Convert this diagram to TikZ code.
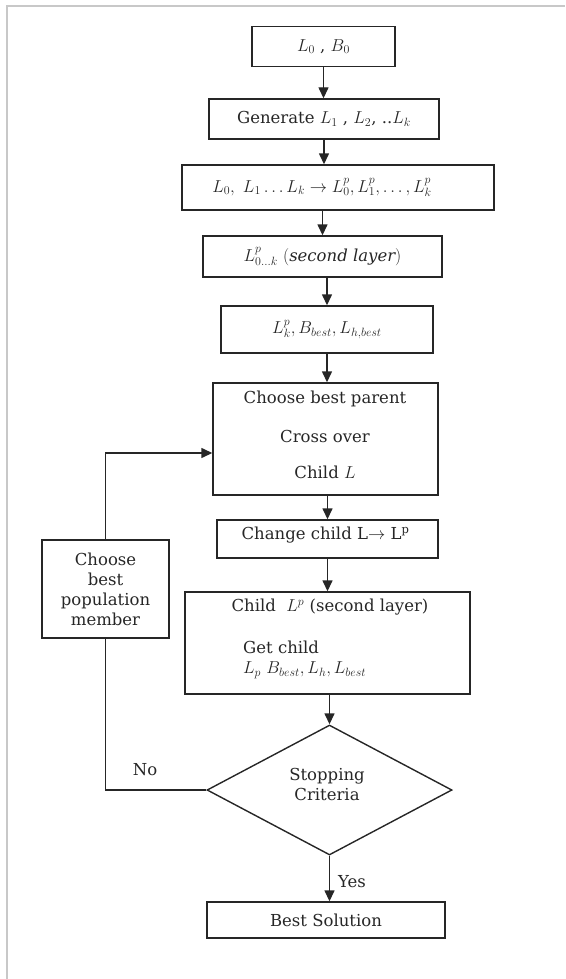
\documentclass[tikz,border=0pt]{standalone}
\usepackage{fontspec}
\setmainfont{DejaVu Serif}
\usetikzlibrary{arrows.meta,shapes.geometric}
\definecolor{ink}{HTML}{262626}
\definecolor{framegray}{HTML}{C8C8C8}
\newcommand\myfs{\fontsize{16.5pt}{20pt}\selectfont}
\begin{document}
\begin{tikzpicture}[x=1pt,y=-1pt,
  box/.style={draw=ink,line width=1.4pt,inner sep=0pt,text=ink,font=\myfs},
  txt/.style={inner sep=0pt,text=ink,font=\myfs},
  conn/.style={draw=ink,line width=1.4pt},
  arr/.style={conn,-{Triangle[length=11pt,width=10pt]}}]
\useasboundingbox (0,0) rectangle (565,979);
\draw[framegray,line width=1.5pt] (7,979) -- (7,6) -- (565,6);

\node[box,minimum width=143pt,minimum height=40pt] (b1) at (323.5,46.5) {$L_0$ , $B_0$};
\node[box,minimum width=230pt,minimum height=40pt] (b2) at (324,119) {Generate $L_1$ , $L_2$, ..$L_k$};
\node[box,minimum width=312pt,minimum height=45pt] (b3) at (338,187.5) {};
\node[txt] (t3) at (322,187.5) {$L_0,\ L_1 \ldots L_k \rightarrow L^{p}_{0}, L^{p}_{1}, \ldots, L^{p}_{k}$};
\node[box,minimum width=239pt,minimum height=41pt] (b4) at (322.5,256.5) {$L^{p}_{0\ldots k}$ $(\mathit{second\ layer})$};
\node[box,minimum width=212pt,minimum height=47pt] (b5) at (327,329.5) {$L^{p}_{k}, B_{best}, L_{h,best}$};
\node[box,minimum width=225pt,minimum height=112pt] (b6) at (325.5,439) {};
\node[txt] (t6a) at (325,399) {Choose best parent};
\node[txt] (t6b) at (325,436) {Cross over};
\node[txt] (t6c) at (325,472) {Child $L$};
\node[box,minimum width=221pt,minimum height=38pt] (b7) at (327.5,539) {};
\node[txt] (t7) at (325.5,535) {Change child L$\rightarrow$ L\textsuperscript{p}};
\node[box,minimum width=285pt,minimum height=102pt] (b8) at (327.5,643) {};
\node[txt] (t8a) at (330,607) {Child \ $L^{p}$ (second layer)};
\node[txt,anchor=west] (t8b) at (243,647) {Get child};
\node[txt,anchor=west] (t8c) at (243,670) {$L_{p}\ B_{best}, L_{h}, L_{best}$};
\node[box,diamond,minimum width=245pt,minimum height=130pt] (dia) at (329.5,790) {};
\node[txt,align=center] (tdia) at (327,784.5) {Stopping\\Criteria};
\node[box,minimum width=238pt,minimum height=36pt] (best) at (326,920) {Best Solution};
\node[box,minimum width=127pt,minimum height=98pt,align=center] (left) at (105.5,589) {Choose\\best\\population\\member};

\draw[arr] (b1.south) -- (b1.south |- b2.north);
\draw[arr] (b2.south) -- (b2.south |- b3.north);
\draw[arr] (b4.north |- b3.south) -- (b4.north);
\draw[arr] (b5.north |- b4.south) -- (b5.north);
\draw[arr] (b5.south) -- (b5.south |- b6.north);
\draw[arr] (b7.north |- b6.south) -- (b7.north);
\draw[arr] (b7.south) -- (b7.south |- b8.north);
\draw[arr] (dia.north |- b8.south) -- (dia.north);
\draw[arr] (dia.south) -- (dia.south |- best.north);
\draw[conn] (dia.west) -| (left.south);
\draw[arr] (left.north) |- ([yshift=-14pt]b6.west);
\node[txt] (no) at (145,770) {No};
\node[txt] (yes) at (352,882) {Yes};
\end{tikzpicture}
\end{document}
